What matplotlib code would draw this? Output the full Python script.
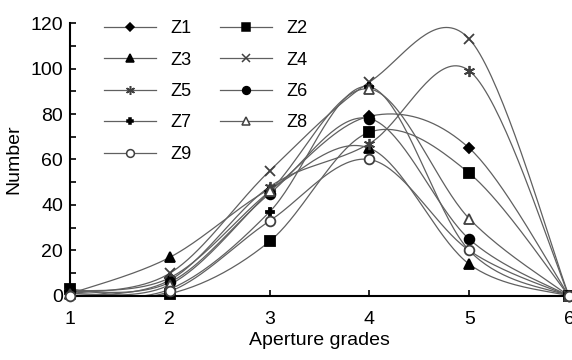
import numpy as np
import matplotlib
matplotlib.use("Agg")
import matplotlib.pyplot as plt

plt.rcParams["font.family"] = ["Liberation Sans", "DejaVu Sans"]

grades = [1, 2, 3, 4, 5, 6]
z1 = [2, 8, 46, 79, 65, 0]
z2 = [3, 1, 24, 72, 54, 0]
z3 = [1, 17, 47, 65, 14, 0]
z4 = [1, 10, 55, 94, 113, 0]
z5 = [0, 7, 48, 67, 99, 0]
z6 = [2, 6, 45, 78, 25, 0]
z7 = [0, 3, 37, 92, 20, 0]
z8 = [1, 5, 46, 91, 34, 0]
z9 = [0, 2, 33, 60, 20, 0]
names = ["Z1", "Z2", "Z3", "Z4", "Z5", "Z6", "Z7", "Z8", "Z9"]
series = [z1, z2, z3, z4, z5, z6, z7, z8, z9]

# marker, size, facecolor, edgecolor
styles = [
    ("D", 5, "black", "black"),
    ("s", 7, "black", "black"),
    ("^", 7, "black", "black"),
    ("x", 7, "none", "#404040"),
    ((6, 2, 0), 8, "none", "#404040"),
    ("o", 7, "black", "black"),
    ("P", 6, "black", "black"),
    ("^", 7, "white", "#404040"),
    ("o", 7, "white", "#404040"),
]


def smooth(x, y, n=40):
    # Excel style smoothed line (Catmull-Rom as cubic bezier)
    x = np.asarray(x, float)
    y = np.asarray(y, float)
    px = np.concatenate([[x[0]], x, [x[-1]]])
    py = np.concatenate([[y[0]], y, [y[-1]]])
    t = np.linspace(0, 1, n)[:, None]
    xs, ys = [], []
    for i in range(len(x) - 1):
        p0 = np.array([px[i + 1], py[i + 1]])
        p3 = np.array([px[i + 2], py[i + 2]])
        c1 = p0 + (p3 - np.array([px[i], py[i]])) / 6
        c2 = p3 - (np.array([px[i + 3], py[i + 3]]) - p0) / 6
        b = ((1 - t) ** 3) * p0 + 3 * ((1 - t) ** 2) * t * c1 \
            + 3 * (1 - t) * t ** 2 * c2 + t ** 3 * p3
        xs.append(b[:, 0])
        ys.append(b[:, 1])
    return np.concatenate(xs), np.concatenate(ys)


fig = plt.figure(figsize=(5.72, 3.6), dpi=100)
ax = fig.add_axes([0.1224, 0.1778, 0.8724, 0.7583])

line_col = "#606060"
handles = {}
for name, vals, (m, ms, fc, ec) in zip(names, series, styles):
    sx, sy = smooth(grades, vals)
    ax.plot(sx, sy, color=line_col, lw=0.9, zorder=2)
    ax.plot(grades, vals, ls="none", marker=m, ms=ms, mfc=fc, mec=ec,
            mew=1.3, clip_on=False, zorder=3)
    # legend proxy
    h, = ax.plot([], [], color=line_col, lw=0.9, marker=m, ms=ms * 0.8,
                 mfc=fc, mec=ec, mew=1.1)
    handles[name] = h

ax.set_xlim(1, 6)
ax.set_ylim(0, 120)
ax.set_xticks(grades)
ax.set_yticks(np.arange(0, 121, 20))
ax.set_yticks(np.arange(10, 120, 20), minor=True)
ax.tick_params(axis="both", which="both", direction="in", length=4,
               width=1.2, labelsize=14, colors="black")
ax.tick_params(axis="y", pad=5)
ax.tick_params(axis="x", pad=11)
for s in ["top", "right"]:
    ax.spines[s].set_visible(False)
for s in ["left", "bottom"]:
    ax.spines[s].set_linewidth(1.5)

ax.set_xlabel("Aperture grades", fontsize=14, labelpad=3)
ax.set_ylabel("Number", fontsize=14, labelpad=6)

# matplotlib fills legend columns first, reorder so rows read Z1 Z2 / Z3 Z4 ...
order = ["Z1", "Z3", "Z5", "Z7", "Z9", "Z2", "Z4", "Z6", "Z8"]
ax.legend([handles[k] for k in order], order, loc="upper left", ncol=2,
          frameon=False, fontsize=13, handlelength=2.9, handletextpad=0.8,
          columnspacing=1.55, labelspacing=0.8, bbox_to_anchor=(0.035, 1.07))

fig.savefig("out.png", dpi=100)
